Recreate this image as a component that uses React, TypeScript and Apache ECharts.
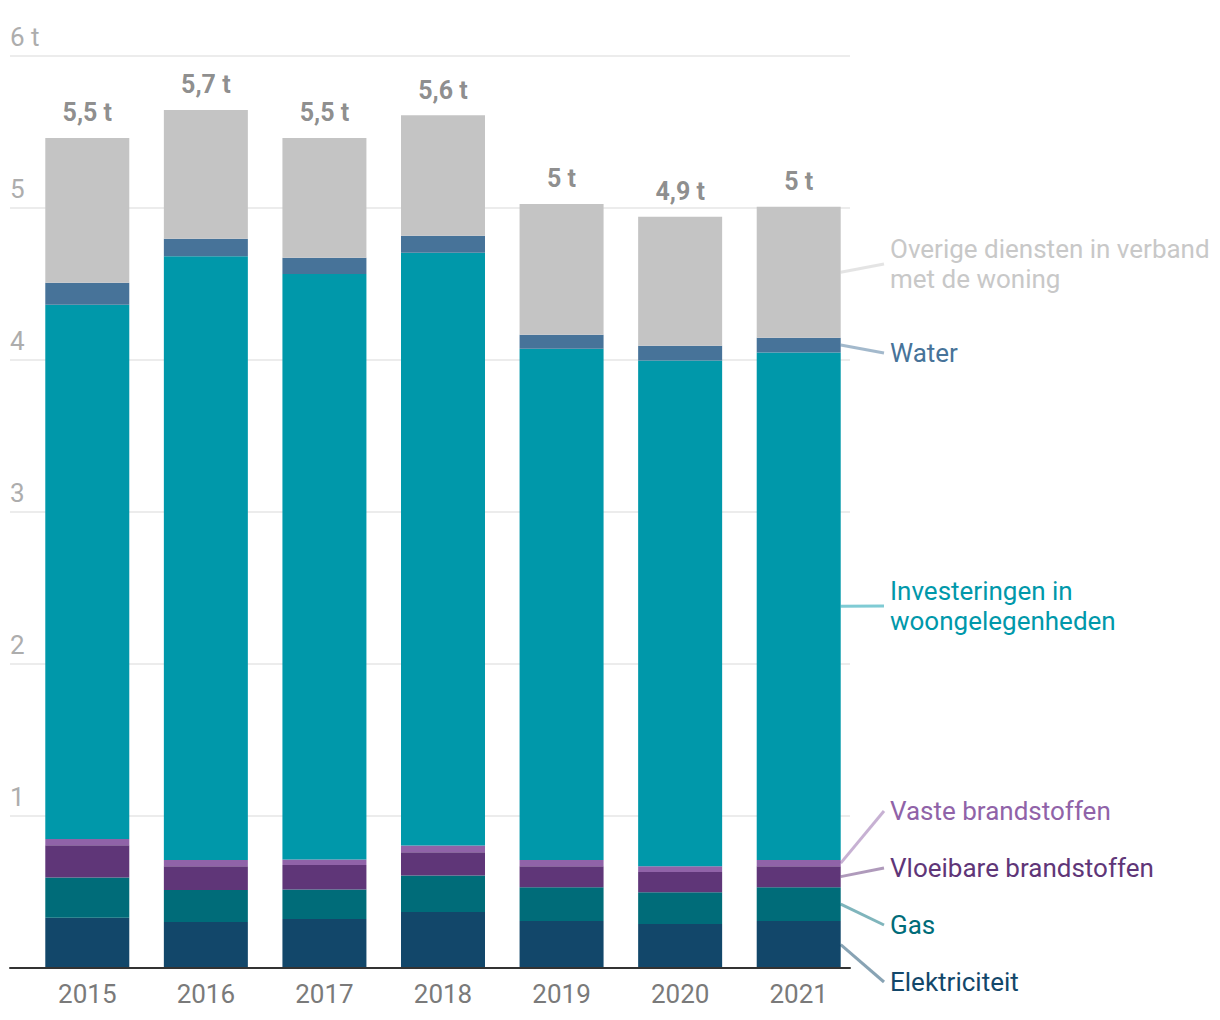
import React, { useEffect, useRef } from "react";
import * as echarts from "echarts";

const years = ["2015", "2016", "2017", "2018", "2019", "2020", "2021"];

const elektriciteit = [0.33, 0.302, 0.322, 0.368, 0.309, 0.289, 0.309];
const gas = [0.266, 0.211, 0.195, 0.241, 0.223, 0.21, 0.223];
const vloeibareBrandstoffen = [0.212, 0.157, 0.16, 0.153, 0.138, 0.132, 0.138];
const vasteBrandstoffen = [0.04, 0.04, 0.037, 0.044, 0.04, 0.039, 0.04];
const investeringen = [3.516, 3.973, 3.851, 3.899, 3.364, 3.326, 3.34];
const water = [0.144, 0.114, 0.107, 0.112, 0.092, 0.098, 0.097];
const overige = [0.953, 0.848, 0.789, 0.793, 0.861, 0.848, 0.861];

const totalLabels = ["5,5 t", "5,7 t", "5,5 t", "5,6 t", "5 t", "4,9 t", "5 t"];

const seriesNames = [
  "Elektriciteit",
  "Gas",
  "Vloeibare brandstoffen",
  "Vaste brandstoffen",
  "Investeringen in woongelegenheden",
  "Water",
  "Overige diensten in verband met de woning",
];
const legendTexts = [
  "Elektriciteit",
  "Gas",
  "Vloeibare brandstoffen",
  "Vaste brandstoffen",
  "Investeringen in\nwoongelegenheden",
  "Water",
  "Overige diensten in verband\nmet de woning",
];
const seriesData = [
  elektriciteit,
  gas,
  vloeibareBrandstoffen,
  vasteBrandstoffen,
  investeringen,
  water,
  overige,
];

// styling / layout (not data)
const colors = ["#12476a", "#006c79", "#5f3678", "#9063a8", "#0098aa", "#477399", "#c4c4c4"];
const textColors = ["#12476a", "#006c79", "#5f3678", "#9063a8", "#0098aa", "#477399", "#c8c8c8"];
const lineColors = [
  "rgba(18,71,106,0.5)",
  "rgba(0,108,121,0.5)",
  "rgba(95,54,120,0.5)",
  "rgba(144,99,168,0.5)",
  "rgba(0,152,170,0.5)",
  "rgba(71,115,153,0.5)",
  "rgba(196,196,196,0.45)",
];
const legendY = [982, 925, 868, 811, 606, 353, 264];
const legendX = 884;
const BAR_WIDTH = 84;

export default function App() {
  const ref = useRef<HTMLDivElement>(null);

  useEffect(() => {
    document.body.style.margin = "0";
    if (!ref.current) return;
    const chart = echarts.init(ref.current, null, { renderer: "svg" });
    const last = years.length - 1;
    const totals = years.map((_, i) => seriesData.reduce((s, arr) => s + arr[i], 0));

    const barSeries = seriesData.map((arr, si) => ({
      name: seriesNames[si],
      type: "bar",
      stack: "total",
      xAxisIndex: 1,
      yAxisIndex: 1,
      barWidth: BAR_WIDTH,
      itemStyle: { color: colors[si] },
      emphasis: { disabled: true },
      labelLayout: () => ({
        x: legendX,
        y: legendY[si],
        align: "left",
        verticalAlign: "middle",
      }),
      data: arr.map((v, i) =>
        i === last
          ? {
              value: v,
              label: {
                show: true,
                position: "right",
                formatter: legendTexts[si],
                color: textColors[si],
                fontFamily: "Roboto",
                fontSize: 26,
                lineHeight: 30,
                padding: [0, 0, 0, 6],
              },
            }
          : v
      ),
    }));

    chart.setOption({
      animation: false,
      textStyle: { fontFamily: "Roboto" },
      grid: [
        { left: 10, top: 56, width: 840, height: 912 },
        { left: 28, top: 56, width: 830, height: 912 },
      ],
      xAxis: [
        {
          gridIndex: 0,
          type: "value",
          min: 0,
          max: 1,
          z: 5,
          axisLine: { show: true, lineStyle: { color: "#333333", width: 2 } },
          axisTick: { show: false },
          axisLabel: { show: false },
          splitLine: { show: false },
        },
        {
          gridIndex: 1,
          type: "category",
          data: years,
          axisLine: { show: false },
          axisTick: { show: false },
          axisLabel: {
            color: "#7a7a7a",
            fontSize: 26,
            fontFamily: "Roboto",
            margin: 13,
          },
        },
      ],
      yAxis: [
        {
          gridIndex: 0,
          type: "value",
          min: 0,
          max: 6,
          interval: 1,
          axisLine: { show: false },
          axisTick: { show: false },
          splitLine: { show: true, lineStyle: { color: "#e6e6e6", width: 1.5 } },
          axisLabel: {
            inside: true,
            margin: 0,
            align: "left",
            verticalAlign: "bottom",
            padding: [0, 0, 6, 0],
            color: "#adadad",
            fontSize: 26,
            fontFamily: "Roboto",
            formatter: (v: number) => (v === 0 ? "" : v === 6 ? "6 t" : String(v)),
          },
        },
        {
          gridIndex: 1,
          type: "value",
          min: 0,
          max: 6,
          interval: 1,
          show: false,
        },
      ],
      series: [
        ...barSeries,
        {
          name: "totaal",
          type: "scatter",
          xAxisIndex: 1,
          yAxisIndex: 1,
          symbolSize: 1,
          itemStyle: { color: "rgba(0,0,0,0)" },
          emphasis: { disabled: true },
          data: totals.map((t, i) => [i, t]),
          label: {
            show: true,
            position: "top",
            distance: 12,
            formatter: (p: any) => totalLabels[p.dataIndex],
            color: "#707070",
            fontWeight: "bold",
            fontSize: 25,
            fontFamily: "Roboto",
          },
        },
      ],
    });

    // connector lines from the middle of each 2021 segment to its label
    let cum = 0;
    const connectors = seriesData.map((arr, si) => {
      const v = arr[last];
      const mid = cum + v / 2;
      cum += v;
      const p = chart.convertToPixel({ xAxisIndex: 1, yAxisIndex: 1 }, [last, mid]) as number[];
      return {
        type: "line",
        z: 10,
        shape: { x1: p[0] + BAR_WIDTH / 2, y1: p[1], x2: legendX, y2: legendY[si] },
        style: { stroke: lineColors[si], lineWidth: 3 },
      };
    });
    chart.setOption({ graphic: connectors });

    return () => chart.dispose();
  }, []);

  return <div ref={ref} style={{ width: 1220, height: 1020 }} />;
}
